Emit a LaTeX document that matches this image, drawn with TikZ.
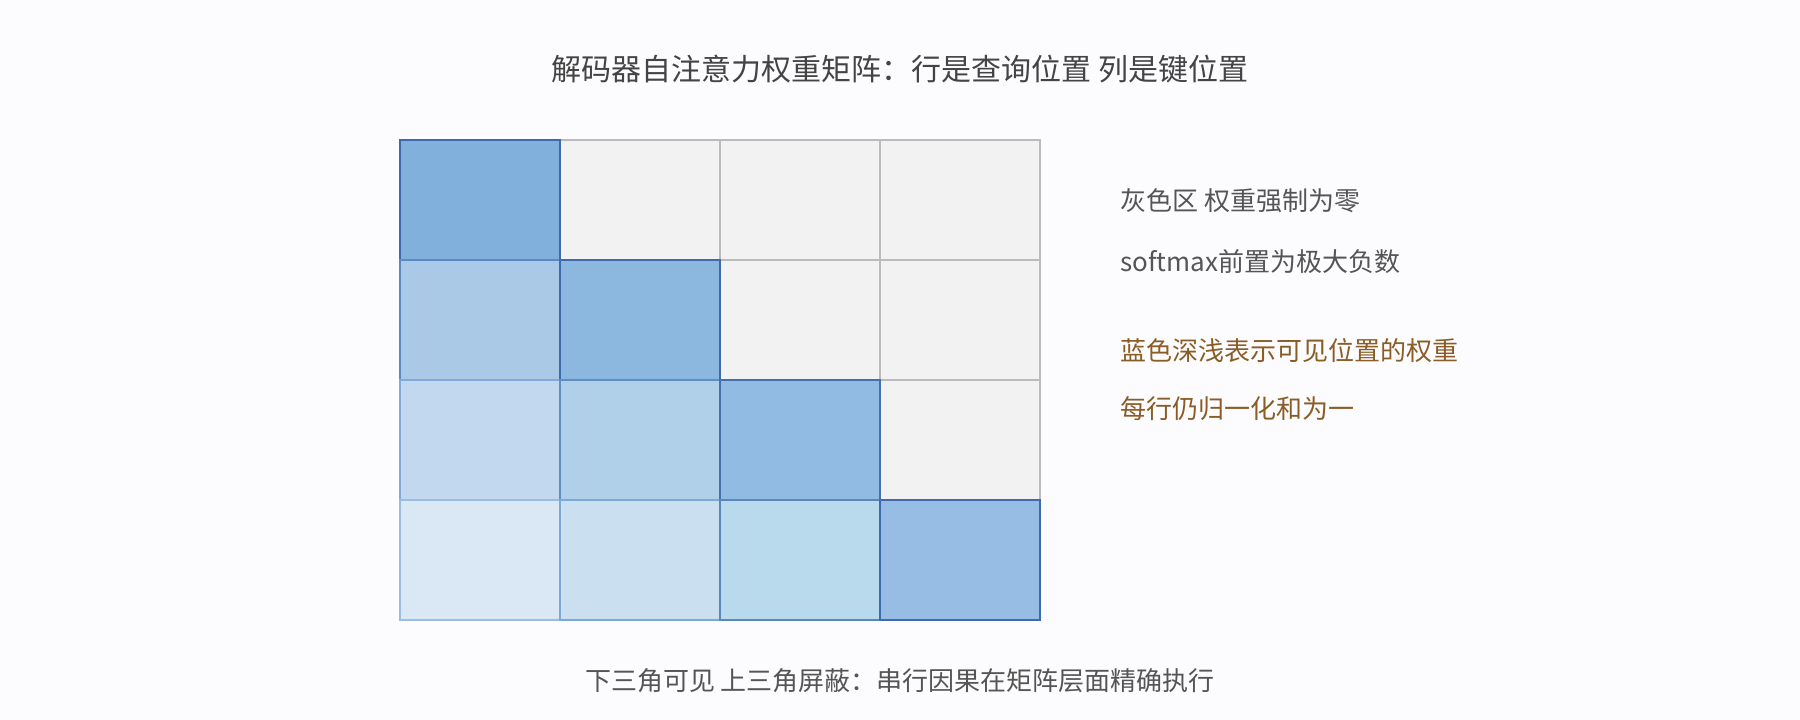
\documentclass[tikz,border=0pt]{standalone}
\usepackage{fontspec}
\setmainfont{Noto Sans CJK SC}
\definecolor{bgc}{HTML}{FCFCFE}
\definecolor{gfill}{HTML}{F2F2F2}
\definecolor{gline}{HTML}{BBBBBB}
\definecolor{titlec}{HTML}{444444}
\definecolor{notec}{HTML}{555555}
\definecolor{brownc}{HTML}{8A5C26}
\definecolor{f00}{HTML}{80B0DB}\definecolor{l00}{HTML}{3F6AAE}
\definecolor{f10}{HTML}{A9C9E7}\definecolor{l10}{HTML}{5A8AC0}
\definecolor{f11}{HTML}{8CB8E0}\definecolor{l11}{HTML}{3F6AAE}
\definecolor{f20}{HTML}{C2D8EE}\definecolor{l20}{HTML}{80AADA}
\definecolor{f21}{HTML}{B0D0E9}\definecolor{l21}{HTML}{5F8EC4}
\definecolor{f22}{HTML}{91BBE3}\definecolor{l22}{HTML}{4470AE}
\definecolor{f30}{HTML}{DAE8F6}\definecolor{l30}{HTML}{9BBCDE}
\definecolor{f31}{HTML}{CAE0F0}\definecolor{l31}{HTML}{7CA8D8}
\definecolor{f32}{HTML}{B9DAEC}\definecolor{l32}{HTML}{5888BA}
\definecolor{f33}{HTML}{98BDE5}\definecolor{l33}{HTML}{3F6AAE}
\begin{document}
\begin{tikzpicture}[x=1pt,y=1pt,
  cell/.style={rectangle,minimum width=160pt,minimum height=120pt,inner sep=0pt,line width=2pt},
  masked/.style={cell,fill=gfill,draw=gline},
  note/.style={anchor=west,inner sep=0pt,font=\fontsize{26}{30}\selectfont}]
\fill[bgc] (0,0) rectangle (1800,-720);
\useasboundingbox (0,0) rectangle (1800,-720);
\node[inner sep=0pt,text=titlec,font=\fontsize{30}{36}\selectfont] (title) at (900,-69) {解码器自注意力权重矩阵：行是查询位置 列是键位置};
% masked cells
\node[masked] (c01) at (640,-200) {};
\node[masked] (c02) at (800,-200) {};
\node[masked] (c03) at (960,-200) {};
\node[masked] (c12) at (800,-320) {};
\node[masked] (c13) at (960,-320) {};
\node[masked] (c23) at (960,-440) {};
% visible cells
\node[cell,fill=f00,draw=l00] (c00) at (480,-200) {};
\node[cell,fill=f10,draw=l10] (c10) at (480,-320) {};
\node[cell,fill=f11,draw=l11] (c11) at (640,-320) {};
\node[cell,fill=f20,draw=l20] (c20) at (480,-440) {};
\node[cell,fill=f21,draw=l21] (c21) at (640,-440) {};
\node[cell,fill=f22,draw=l22] (c22) at (800,-440) {};
\node[cell,fill=f30,draw=l30] (c30) at (480,-560) {};
\node[cell,fill=f31,draw=l31] (c31) at (640,-560) {};
\node[cell,fill=f32,draw=l32] (c32) at (800,-560) {};
\node[cell,fill=f33,draw=l33] (c33) at (960,-560) {};
% notes
\node[note,text=notec] (n1) at (1120,-201) {灰色区 权重强制为零};
\node[note,text=notec] (n2) at (1120,-262) {softmax前置为极大负数};
\node[note,text=brownc] (n3) at (1120,-351) {蓝色深浅表示可见位置的权重};
\node[note,text=brownc] (n4) at (1120,-409) {每行仍归一化和为一};
\node[inner sep=0pt,text=notec,font=\fontsize{26}{31}\selectfont] (cap) at (900,-681) {下三角可见 上三角屏蔽：串行因果在矩阵层面精确执行};
\end{tikzpicture}
\end{document}
